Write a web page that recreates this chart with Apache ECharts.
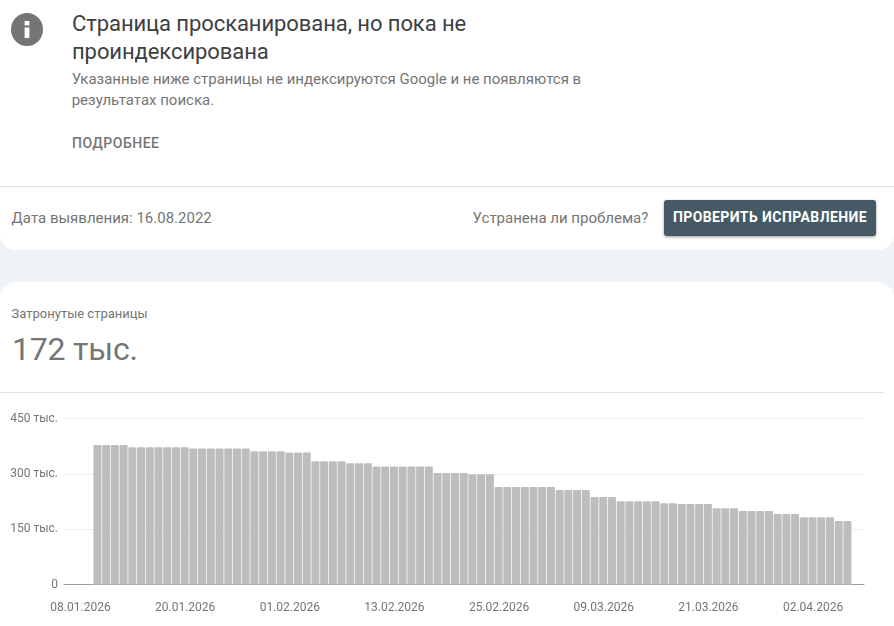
<!DOCTYPE html>
<html lang="ru">
<head>
<meta charset="utf-8">
<title>Затронутые страницы</title>
<script src="https://cdn.jsdelivr.net/npm/echarts@6/dist/echarts.min.js"></script>
<style>
html,body{margin:0;padding:0;width:894px;height:626px;overflow:hidden;background:#eff3f8;font-family:Roboto,sans-serif;}
.abs{position:absolute;white-space:nowrap;}
#top{position:absolute;left:0;top:0;width:894px;height:250px;background:#fff;border-radius:0 0 16px 16px;}
#bottom{position:absolute;left:0;top:282px;width:894px;height:344px;background:#fff;border-radius:16px 16px 0 0;}
#chart{position:absolute;left:0;top:393px;width:894px;height:233px;}
</style>
</head>
<body>
<div id="top"></div>
<div id="bottom"></div>
<svg class="abs" style="left:11px;top:13px" width="32" height="33" viewBox="0 0 32 33">
  <ellipse cx="16" cy="16.5" rx="16" ry="16.5" fill="#757575"/>
  <rect x="13.6" y="14.5" width="4.8" height="10.5" fill="#fff"/>
  <rect x="13.6" y="8" width="4.8" height="4.4" fill="#fff"/>
</svg>
<div class="abs" style="left:72px;top:10px;font-size:22px;line-height:28px;letter-spacing:-.08px;color:#3c4043;">Страница просканирована, но пока не<br>проиндексирована</div>
<div class="abs" style="left:71.7px;top:69px;font-size:15px;line-height:21px;letter-spacing:-.01px;color:#757575;">Указанные ниже страницы не индексируются Google и не появляются в<br>результатах поиска.</div>
<div class="abs" style="left:72px;top:135px;font-size:14px;line-height:16px;font-weight:500;letter-spacing:.5px;color:#757575;">ПОДРОБНЕЕ</div>
<div class="abs" style="left:0;top:186px;width:894px;height:1px;background:#e0e0e0;"></div>
<div class="abs" style="left:11.6px;top:209px;font-size:15px;line-height:18px;color:#757575;">Дата выявления: 16.08.2022</div>
<div class="abs" style="left:472.6px;top:209px;font-size:15px;line-height:18px;color:#757575;">Устранена ли проблема?</div>
<div class="abs" style="left:664px;top:200px;width:212px;height:36px;line-height:35px;text-align:center;background:#455a64;border-radius:3px;box-shadow:0 1px 3px rgba(0,0,0,.4);color:#fff;font-size:14px;font-weight:700;letter-spacing:.42px;">ПРОВЕРИТЬ ИСПРАВЛЕНИЕ</div>
<div class="abs" style="left:11.6px;top:306px;font-size:13px;line-height:16px;color:#757575;">Затронутые страницы</div>
<div class="abs" style="left:12px;top:329px;font-size:32px;line-height:40px;letter-spacing:-.2px;color:#757575;">172 тыс.</div>
<div class="abs" style="left:0;top:392px;width:884px;height:1px;background:#e0e0e0;"></div>
<div id="chart"></div>
<script>
const startDate = '2026-01-08';
const affectedPages = [
  378000,378000,378000,378000,
  372000,372000,372000,372000,372000,372000,372000,
  369000,369000,369000,369000,369000,369000,369000,
  361000,361000,361000,361000,
  358000,358000,358000,
  334000,334000,334000,334000,
  329000,329000,329000,
  320000,320000,320000,320000,320000,320000,320000,
  302000,302000,302000,302000,
  299000,299000,299000,
  264000,264000,264000,264000,264000,264000,264000,
  256000,256000,256000,256000,
  237000,237000,237000,
  226000,226000,226000,226000,226000,
  220000,220000,
  218000,218000,218000,218000,
  207000,207000,207000,
  199000,199000,199000,199000,
  191000,191000,191000,
  182000,182000,182000,182000,
  172000,172000
];
const firstBarDay = 2;
const dateTicks = ['2026-01-08','2026-01-20','2026-02-01','2026-02-13','2026-02-25','2026-03-09','2026-03-21','2026-04-02'];

const DAY = 86400000;
const ms = s => Date.parse(s + 'T00:00:00Z');
const dayOf = s => Math.round((ms(s) - ms(startDate)) / DAY);
const fmt = n => { const d = new Date(ms(startDate) + n * DAY);
  const p = x => String(x).padStart(2,'0');
  return p(d.getUTCDate()) + '.' + p(d.getUTCMonth()+1) + '.' + d.getUTCFullYear(); };

const chart = echarts.init(document.getElementById('chart'), null, {renderer:'canvas'});
chart.setOption({
  animation:false,
  backgroundColor:'transparent',
  textStyle:{fontFamily:'Roboto'},
  grid:{left:64,right:30,top:25.5,bottom:41.5,containLabel:false},
  xAxis:{
    type:'value',
    min:-1.835,
    max:89.9,
    splitLine:{show:false},
    axisTick:{show:false},
    axisLine:{show:true,lineStyle:{color:'#9e9e9e',width:1}},
    axisLabel:{
      customValues:dateTicks.map(dayOf),
      formatter:v=>fmt(v),
      color:'#757575',fontSize:12,margin:17,hideOverlap:false,padding:[0,0,0,1]
    }
  },
  yAxis:{
    type:'value',min:0,max:450000,interval:150000,
    axisLine:{show:false},axisTick:{show:false},
    splitLine:{lineStyle:{color:'#eeeeee',width:1}},
    axisLabel:{
      formatter:v=>v===0?'0':(v/1000)+' тыс.',
      color:'#757575',fontSize:12,margin:6,padding:[5,0,0,0]
    }
  },
  series:[{
    type:'bar',
    name:'Затронутые страницы',
    data:affectedPages.map((v,i)=>[firstBarDay+i,v]),
    barWidth:8,
    itemStyle:{color:'#bdbdbd',borderRadius:[1,1,0,0]}
  }]
});
</script>
</body>
</html>
